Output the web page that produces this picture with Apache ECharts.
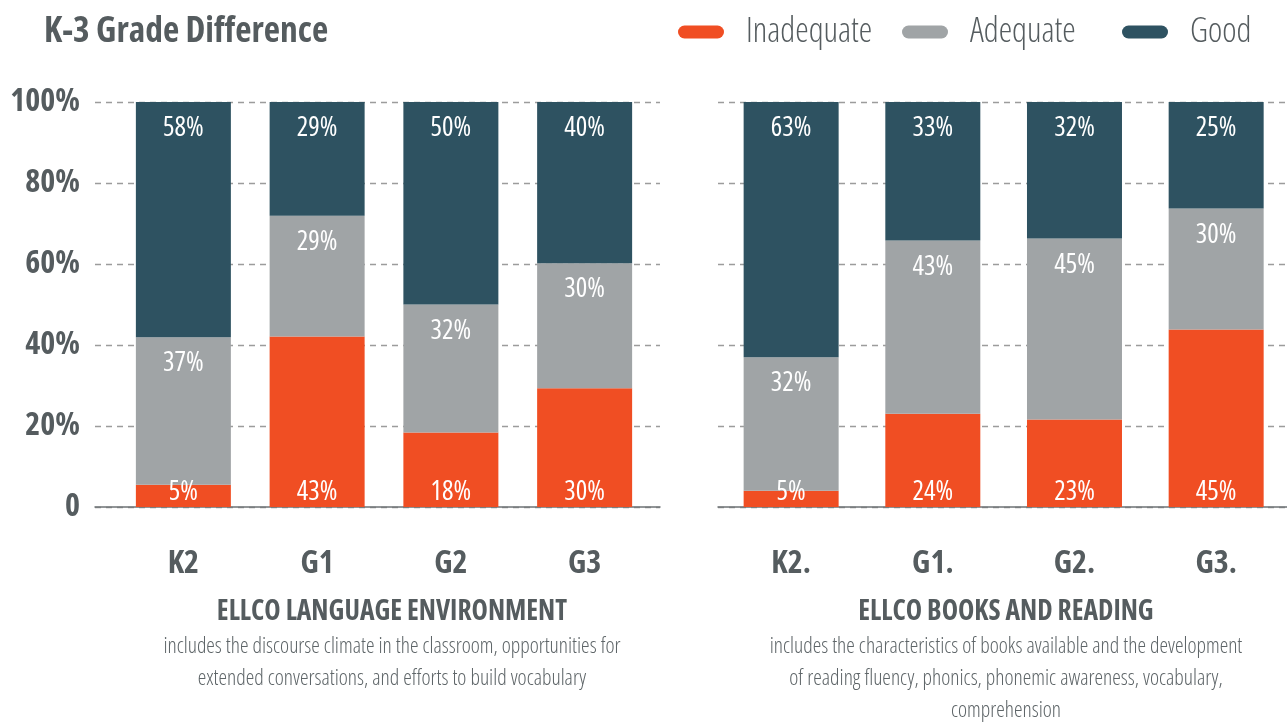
<!DOCTYPE html>
<html>
<head>
<meta charset="utf-8">
<script src="https://cdn.jsdelivr.net/npm/echarts@6/dist/echarts.min.js"></script>
<style>
html,body{margin:0;padding:0;background:#fff;}
#chart{width:1287px;height:725px;}
</style>
</head>
<body>
<div id="chart"></div>
<script>
// ---- data ----
const categoriesLeft = ['K2', 'G1', 'G2', 'G3'];
const categoriesRight = ['K2.', 'G1.', 'G2.', 'G3.'];
const seriesNames = ['Inadequate', 'Adequate', 'Good'];

// bar segment sizes (percent)
const leftInadequate = [5.5, 42.1, 18.4, 29.3];
const leftAdequate   = [36.4, 29.8, 31.6, 30.9];
const leftGood       = [58.1, 28.1, 50.0, 39.8];

const rightInadequate = [4.0, 23.0, 21.6, 43.8];
const rightAdequate   = [33.0, 42.8, 44.7, 29.9];
const rightGood       = [63.0, 34.2, 33.7, 26.3];

// printed labels
const leftInadequateLabels  = ['5%', '43%', '18%', '30%'];
const leftAdequateLabels    = ['37%', '29%', '32%', '30%'];
const leftGoodLabels        = ['58%', '29%', '50%', '40%'];
const rightInadequateLabels = ['5%', '24%', '23%', '45%'];
const rightAdequateLabels   = ['32%', '43%', '45%', '30%'];
const rightGoodLabels       = ['63%', '33%', '32%', '25%'];

const yTicks = [0, 20, 40, 60, 80, 100];

const titleText = 'K-3 Grade Difference';
const leftCaption = 'ELLCO LANGUAGE ENVIRONMENT';
const leftDesc = ['includes the discourse climate in the classroom, opportunities for',
                  'extended conversations, and efforts to build vocabulary'];
const rightCaption = 'ELLCO BOOKS AND READING';
const rightDesc = ['includes the characteristics of books available and the development',
                   'of reading fluency, phonics, phonemic awareness, vocabulary,',
                   'comprehension'];

// ---- styles ----
const FONT = "'Open Sans', 'DejaVu Sans Condensed', sans-serif";
const STRETCH = 'condensed';
const COLORS = ['#F04E23', '#A0A4A6', '#2E5261'];
const TEXT = '#555C5F';
const DESC = '#5E6568';
const TOP = 102, H = 405;

const chart = echarts.init(document.getElementById('chart'));

function bgGridAxes(gi, showLabels) {
  return {
    x: { gridIndex: gi, type: 'value', min: 0, max: 1, show: true,
         axisLine: { show: true, onZero: false, lineStyle: { color: '#6E7376', width: 1.5 } },
         axisTick: { show: false }, axisLabel: { show: false }, splitLine: { show: false } },
    y: { gridIndex: gi, type: 'value', min: yTicks[0], max: yTicks[yTicks.length - 1], interval: 20,
         axisLine: { show: false }, axisTick: { show: false },
         axisLabel: { show: showLabels, fontFamily: FONT, fontStyle: STRETCH, fontWeight: 'bold', fontSize: 32,
                      color: TEXT, margin: 15, formatter: v => v === 0 ? '0' : v + '%' },
         splitLine: { show: true, lineStyle: { color: '#9C9C9C', width: 1.3, type: [6, 5] } } }
  };
}
const bg0 = bgGridAxes(0, true), bg2 = bgGridAxes(2, false);

function barAxes(gi, cats) {
  return {
    x: { gridIndex: gi, type: 'category', data: cats,
         axisLine: { show: false }, axisTick: { show: false },
         axisLabel: { fontFamily: FONT, fontStyle: STRETCH, fontWeight: 'bold', fontSize: 32, color: TEXT, margin: 41 } },
    y: { gridIndex: gi, type: 'value', min: 0, max: 100, show: false, splitLine: { show: false } }
  };
}
const b1 = barAxes(1, categoriesLeft), b3 = barAxes(3, categoriesRight);

function mkSeries(name, data, labels, axisIdx, pos, color) {
  return {
    name, type: 'bar', stack: 'panel' + axisIdx, xAxisIndex: axisIdx, yAxisIndex: axisIdx,
    data, barWidth: 95, itemStyle: { color },
    label: { show: true, position: pos, distance: pos === 'insideBottom' ? 1 : 13,
             fontFamily: FONT, fontStyle: STRETCH, fontSize: 27, color: '#fff',
             formatter: p => labels[p.dataIndex] },
    emphasis: { disabled: true }
  };
}

const series = [
  mkSeries(seriesNames[0], leftInadequate, leftInadequateLabels, 1, 'insideBottom', COLORS[0]),
  mkSeries(seriesNames[1], leftAdequate, leftAdequateLabels, 1, 'insideTop', COLORS[1]),
  mkSeries(seriesNames[2], leftGood, leftGoodLabels, 1, 'insideTop', COLORS[2]),
  mkSeries(seriesNames[0], rightInadequate, rightInadequateLabels, 3, 'insideBottom', COLORS[0]),
  mkSeries(seriesNames[1], rightAdequate, rightAdequateLabels, 3, 'insideTop', COLORS[1]),
  mkSeries(seriesNames[2], rightGood, rightGoodLabels, 3, 'insideTop', COLORS[2])
];

function textEl(x, y, text, size, weight, color, align) {
  return { type: 'text', x, y,
           style: { text, x: 0, y: 0, fontFamily: FONT, fontStyle: STRETCH, fontSize: size, fontWeight: weight,
                    fill: color, align: align || 'center', verticalAlign: 'middle' } };
}
const graphics = [
  textEl(44, 32, titleText, 35.5, 'bold', TEXT, 'left'),
  textEl(392, 612, leftCaption, 27.6, 'bold', TEXT),
  textEl(1006, 612, rightCaption, 27.6, 'bold', TEXT)
];
leftDesc.forEach((t, i) => graphics.push(textEl(392, 647 + i * 32, t, 21.6, 300, DESC)));
rightDesc.forEach((t, i) => graphics.push(textEl(1006, 647 + i * 32, t, 21.6, 300, DESC)));

const legendLefts = [673, 897, 1117];
const legends = seriesNames.map((n, i) => ({
  data: [n], left: legendLefts[i], top: 10, itemWidth: 46, itemHeight: 13,
  icon: 'path://M6.5,0H39.5A6.5,6.5,0,0,1,39.5,13H6.5A6.5,6.5,0,0,1,6.5,0Z',
  textStyle: { fontFamily: FONT, fontStyle: STRETCH, fontWeight: 300, fontSize: 34, color: TEXT, padding: [0, 0, 0, 17] },
  selectedMode: false
}));

chart.setOption({
  animation: false,
  legend: legends,
  grid: [
    { left: 95, top: TOP, width: 565, height: H },
    { left: 116.5, top: TOP, width: 535, height: H },
    { left: 718, top: TOP, width: 569, height: H },
    { left: 720.3, top: TOP, width: 569.2, height: H }
  ],
  xAxis: [bg0.x, b1.x, bg2.x, b3.x],
  yAxis: [bg0.y, b1.y, bg2.y, b3.y],
  series,
  graphic: graphics
});
</script>
</body>
</html>
